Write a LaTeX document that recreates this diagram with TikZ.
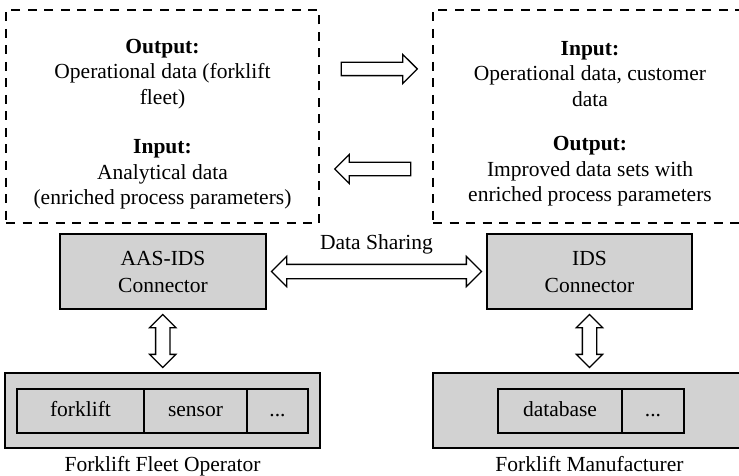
\documentclass[tikz,border=0pt]{standalone}
\usepackage{fontspec}
\setmainfont{Liberation Serif}
\usetikzlibrary{arrows}
\usetikzlibrary{shapes}
\usetikzlibrary{positioning}
\usepackage{xcolor}
\definecolor{boxgray}{RGB}{210,210,210}

\tikzset{
  dashbox/.style={draw, line width=1.4pt, dash pattern=on 9pt off 7.5pt,
    minimum width=313pt, minimum height=213pt, inner sep=0pt},
  graybox/.style={draw, line width=1.8pt, fill=boxgray, inner sep=0pt, outer sep=0pt},
  cell/.style={draw, line width=1.6pt, fill=boxgray, minimum height=44pt,
    text height=14pt, text depth=4pt, inner sep=0pt, outer sep=0pt},
  inout/.style={align=center},
  flowarrow/.style={single arrow, draw, line width=1.3pt, fill=white, inner sep=6pt,
    single arrow head extend=8pt, single arrow head indent=0pt},
  linkarrow/.style={double arrow, draw, line width=1.3pt, fill=white, inner sep=6.5pt},
}

\begin{document}
\begin{tikzpicture}[x=1pt, y=-1pt, font=\fontsize{21.5pt}{25.5pt}\selectfont]
  \clip (0,0) rectangle (739,476);

  % data exchange boxes
  \node[dashbox] (fleetIO) at (162.5,116.5) {};
  \node[dashbox] (makerIO) at (589.5,116.5) {};
  \node[inout] (fleetText) at (162.5,124)
    {\textbf{Output:}\\Operational data (forklift\\fleet)\\[24pt]
     \textbf{Input:}\\Analytical data\\(enriched process parameters)};
  \node[inout] (makerText) at (590,123.5)
    {\textbf{Input:}\\Operational data, customer\\data\\[19pt]
     \textbf{Output:}\\Improved data sets with\\enriched process parameters};

  \path ([yshift=47.5pt]fleetIO.east) -- node[flowarrow, midway, minimum height=76pt] (opFlow) {}
        ([yshift=47.5pt]makerIO.west);
  \path ([yshift=-52.5pt]fleetIO.east) -- node[flowarrow, midway, minimum height=76pt,
        shape border rotate=180] (anaFlow) {} ([yshift=-52.5pt]makerIO.west);

  % connectors
  \node[graybox, minimum width=206pt, minimum height=75pt, align=center,
        font=\fontsize{21.5pt}{27pt}\selectfont] (aasConn) at (163,271.5) {AAS-IDS\\Connector};
  \node[graybox, minimum width=205pt, minimum height=75pt, align=center,
        font=\fontsize{21.5pt}{27pt}\selectfont] (idsConn) at (589.5,271.5) {IDS\\Connector};

  \path (aasConn.east) -- node[linkarrow, midway, minimum height=210pt,
        double arrow head extend=8pt] (shareArrow) {} (idsConn.west);
  \node[inner sep=0pt, anchor=base] (shareLabel) at ([yshift=22.5pt]shareArrow.center) {Data Sharing};

  % operator and manufacturer
  \node[graybox, minimum width=315pt, minimum height=75pt] (fleetOp) at (162.5,410.5) {};
  \node[graybox, minimum width=313pt, minimum height=75pt] (makerOp) at (589.5,410.5) {};

  \node[cell, minimum width=127pt] (forklift) at (80.5,411) {forklift};
  \node[cell, minimum width=103pt, right=0pt of forklift] (sensor) {sensor};
  \node[cell, minimum width=61pt, right=0pt of sensor] (fleetMore) {...};

  \node[cell, minimum width=124pt] (database) at (560,411) {database};
  \node[cell, minimum width=62pt, right=0pt of database] (makerMore) {...};

  \path (aasConn.south) -- node[linkarrow, midway, minimum height=53pt,
        double arrow head extend=6pt, shape border rotate=90] (fleetLink) {} (fleetOp.north);
  \path (idsConn.south) -- node[linkarrow, midway, minimum height=53pt,
        double arrow head extend=6pt, shape border rotate=90] (makerLink) {} (makerOp.north);

  \node[anchor=base] (fleetName) at ([yshift=-23.5pt]fleetOp.south) {Forklift Fleet Operator};
  \node[anchor=base] (makerName) at ([yshift=-23.5pt]makerOp.south) {Forklift Manufacturer};
\end{tikzpicture}
\end{document}
